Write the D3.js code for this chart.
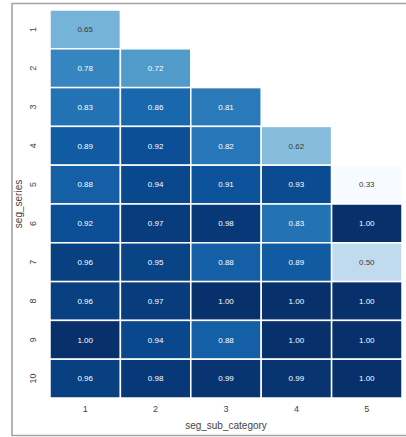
<!DOCTYPE html>
<html>
<head>
<meta charset="utf-8">
<script src="https://cdn.jsdelivr.net/npm/d3@7"></script>
<style>
  html, body { margin: 0; padding: 0; background: #fff; }
  svg { display: block; font-family: "Liberation Sans", Arial, sans-serif; }
</style>
</head>
<body>
<svg id="chart" width="406" height="437"></svg>
<script>
// Share of each sub-category within a series (blank cells have no value)
const seriesLabels = ["1", "2", "3", "4", "5", "6", "7", "8", "9", "10"];
const subCategoryLabels = ["1", "2", "3", "4", "5"];
const values = [
  [0.65, null, null, null, null],
  [0.78, 0.72, null, null, null],
  [0.83, 0.86, 0.81, null, null],
  [0.89, 0.92, 0.82, 0.62, null],
  [0.88, 0.94, 0.91, 0.93, 0.33],
  [0.92, 0.97, 0.98, 0.83, 1.00],
  [0.96, 0.95, 0.88, 0.89, 0.50],
  [0.96, 0.97, 1.00, 1.00, 1.00],
  [1.00, 0.94, 0.88, 1.00, 1.00],
  [0.96, 0.98, 0.99, 0.99, 1.00]
];
const xTitle = "seg_sub_category";
const yTitle = "seg_series";

const svg = d3.select("#chart");
const W = 406, H = 437;
const plot = { left: 50, right: 402, top: 10, bottom: 398 };

// figure frame
const frame = svg.append("g").attr("stroke", "#a3a3a3").attr("stroke-width", 1.6).attr("fill", "none");
frame.append("line").attr("x1", 12).attr("x2", 12).attr("y1", 3).attr("y2", 436);
frame.append("line").attr("x1", 12).attr("x2", W).attr("y1", 3.5).attr("y2", 3.5);
frame.append("line").attr("x1", 12).attr("x2", W).attr("y1", 435.5).attr("y2", 435.5);

const x = d3.scaleBand().domain(subCategoryLabels).range([plot.left, plot.right]).padding(0);
const y = d3.scaleBand().domain(seriesLabels).range([plot.top, plot.bottom]).padding(0);

const flat = [];
values.forEach((row, i) => row.forEach((v, j) => {
  if (v !== null) flat.push({ s: seriesLabels[i], c: subCategoryLabels[j], v });
}));

const vmin = d3.min(flat, d => d.v), vmax = d3.max(flat, d => d.v);
const color = d3.scaleSequential(d3.interpolateBlues).domain([vmin, vmax]);

function luminance(c) {
  const rgb = d3.rgb(c);
  const lin = u => { u /= 255; return u <= 0.03928 ? u / 12.92 : Math.pow((u + 0.055) / 1.055, 2.4); };
  return 0.2126 * lin(rgb.r) + 0.7152 * lin(rgb.g) + 0.0722 * lin(rgb.b);
}

const cells = svg.append("g").selectAll("g.cell").data(flat).join("g").attr("class", "cell");
cells.append("rect")
  .attr("x", d => x(d.c))
  .attr("y", d => y(d.s))
  .attr("width", x.bandwidth())
  .attr("height", y.bandwidth())
  .attr("fill", d => color(d.v))
  .attr("stroke", "#ffffff")
  .attr("stroke-width", 1.5);
cells.append("text")
  .attr("x", d => x(d.c) + x.bandwidth() / 2)
  .attr("y", d => y(d.s) + y.bandwidth() / 2)
  .attr("dy", "0.35em")
  .attr("text-anchor", "middle")
  .attr("font-size", 8)
  .attr("fill", d => luminance(color(d.v)) > 0.33 ? "#3a3a3a" : "#ffffff")
  .text(d => d3.format(".2f")(d.v));

// axes
const xAxis = svg.append("g")
  .attr("transform", `translate(0,${plot.bottom})`)
  .call(d3.axisBottom(x).tickSize(0).tickPadding(8));
xAxis.select(".domain").remove();
xAxis.selectAll("text").attr("font-size", 9).attr("fill", "#444");

const yAxis = svg.append("g")
  .attr("transform", `translate(${plot.left},0)`)
  .call(d3.axisLeft(y).tickSize(0).tickPadding(0));
yAxis.select(".domain").remove();
yAxis.selectAll(".tick text")
  .attr("font-size", 9).attr("fill", "#444")
  .attr("x", 0).attr("dy", 0)
  .attr("text-anchor", "middle")
  .attr("transform", "translate(-16,0) rotate(-90)")
  .attr("dominant-baseline", "middle");

svg.append("text")
  .attr("x", (plot.left + plot.right) / 2)
  .attr("y", 429)
  .attr("text-anchor", "middle")
  .attr("font-size", 10)
  .attr("fill", "#444")
  .text(xTitle);

svg.append("text")
  .attr("transform", `translate(22,${(plot.top + plot.bottom) / 2}) rotate(-90)`)
  .attr("text-anchor", "middle")
  .attr("font-size", 10)
  .attr("fill", "#444")
  .text(yTitle);
</script>
</body>
</html>
